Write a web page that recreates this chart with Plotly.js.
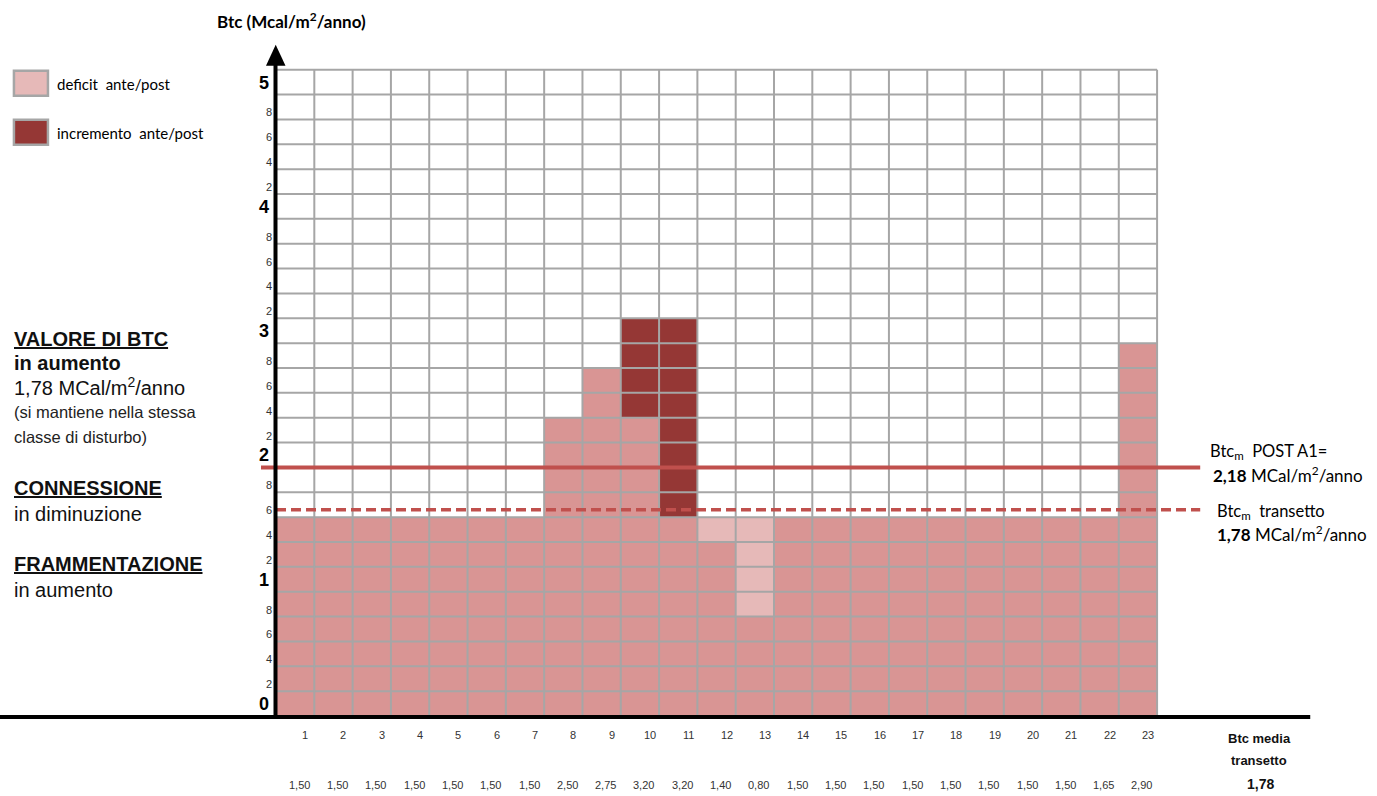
<!DOCTYPE html>
<html>
<head>
<meta charset="utf-8">
<script src="https://cdn.plot.ly/plotly-3.0.1.min.js"></script>
<style>html,body{margin:0;padding:0;background:#fff;}</style>
</head>
<body>
<div id="chart" style="width:1377px;height:796px;"></div>
<script>
// ---------- DATA ----------
const columns = [1,2,3,4,5,6,7,8,9,10,11,12,13,14,15,16,17,18,19,20,21,22,23];
const columnLabels = ['1','2','3','4','5','6','7','8','9','10','11','12','13','14','15','16','17','18','19','20','21','22','23'];
const btcPostLabels = ['1,50','1,50','1,50','1,50','1,50','1,50','1,50','2,50','2,75','3,20','3,20','1,40','0,80','1,50','1,50','1,50','1,50','1,50','1,50','1,50','1,50','1,65','2,90'];
// heights as drawn on the grid (cells of 0.2)
const baseValues = [1.6,1.6,1.6,1.6,1.6,1.6,1.6,2.4,2.8,2.4,1.6,1.4,0.8,1.6,1.6,1.6,1.6,1.6,1.6,1.6,1.6,1.6,3.0];
const incremento = [0,0,0,0,0,0,0,0,0,0.8,1.6,0,0,0,0,0,0,0,0,0,0,0,0];
const deficit    = [0,0,0,0,0,0,0,0,0,0,0,0.2,0.8,0,0,0,0,0,0,0,0,0,0];
const btcPostA1Line = 2.0;     // solid line (labelled 2,18)
const btcTransettoLine = 1.66; // dashed line (labelled 1,78)
const yTickVals = [0,0.2,0.4,0.6,0.8,1,1.2,1.4,1.6,1.8,2,2.2,2.4,2.6,2.8,3,3.2,3.4,3.6,3.8,4,4.2,4.4,4.6,4.8,5];
const yTickText = ['0','2','4','6','8','1','2','4','6','8','2','2','4','6','8','3','2','4','6','8','4','2','4','6','8','5'];
const btcMediaTransetto = '1,78';

// ---------- STYLE ----------
const C_BASE = '#d99594', C_INC = '#953735', C_DEF = '#e6b9b8';
const C_GRID = '#a6a6a6', C_RED = '#c0504d';
const ARIAL = 'Liberation Sans, Arial, sans-serif';
const CAL = 'Lato, Open Sans, sans-serif';

const L = 276, B = 716, W = 882.8, H = 649.7;
const px = x => (x - L) / W;
const py = y => (B - y) / H;

const traces = [
  {type:'bar', x:columns, y:baseValues, width:1, marker:{color:C_BASE, line:{width:0}}, hoverinfo:'skip', name:'base'},
  {type:'bar', x:columns, y:incremento, width:1, marker:{color:C_INC, line:{width:0}}, hoverinfo:'skip', name:'incremento ante/post'},
  {type:'bar', x:columns, y:deficit, width:1, marker:{color:C_DEF, line:{width:0}}, hoverinfo:'skip', name:'deficit ante/post'}
];

const shapes = [];
// grid above bars
for (let k = 1; k <= 26; k++) {
  const yv = Math.round(k * 2) / 10;
  shapes.push({type:'line', xref:'x', yref:'y', x0:0.5, x1:23.5, y0:yv, y1:yv, line:{color:C_GRID, width:2}, layer:'above'});
}
for (let k = 1; k <= 23; k++) {
  shapes.push({type:'line', xref:'x', yref:'y', x0:k + 0.5, x1:k + 0.5, y0:0, y1:5.2, line:{color:C_GRID, width:2}, layer:'above'});
}
// reference lines
shapes.push({type:'line', xref:'paper', yref:'y', x0:px(261), x1:px(1200), y0:btcPostA1Line, y1:btcPostA1Line, line:{color:C_RED, width:4}, layer:'above'});
shapes.push({type:'line', xref:'paper', yref:'y', x0:px(276), x1:px(1200), y0:btcTransettoLine, y1:btcTransettoLine, line:{color:C_RED, width:3.5, dash:'10px,5px'}, layer:'above'});
// black axes
shapes.push({type:'line', xref:'paper', yref:'paper', x0:px(0), x1:px(1310), y0:py(717), y1:py(717), line:{color:'#000', width:4}, layer:'above'});
shapes.push({type:'line', xref:'paper', yref:'paper', x0:px(275.5), x1:px(275.5), y0:py(719), y1:py(63), line:{color:'#000', width:4}, layer:'above'});
shapes.push({type:'path', xref:'paper', yref:'paper',
  path:`M ${px(266)} ${py(66)} L ${px(285.5)} ${py(66)} L ${px(275.7)} ${py(45)} Z`,
  fillcolor:'#000', line:{color:'#000', width:0}, layer:'above'});
// legend boxes
shapes.push({type:'rect', xref:'paper', yref:'paper', x0:px(14), x1:px(48), y0:py(71), y1:py(96), fillcolor:C_DEF, line:{color:C_GRID, width:2.5}, layer:'above'});
shapes.push({type:'rect', xref:'paper', yref:'paper', x0:px(14), x1:px(48), y0:py(120), y1:py(145), fillcolor:C_INC, line:{color:C_GRID, width:2.5}, layer:'above'});

const annotations = [];
function ann(text, x, y, opts) {
  annotations.push(Object.assign({text:text, xref:'paper', yref:'paper', x:px(x), y:py(y), showarrow:false,
    xanchor:'left', yanchor:'middle', font:{family:ARIAL, size:12, color:'#000'}}, opts || {}));
}
// y tick labels
yTickVals.forEach((v, i) => {
  const major = Math.abs(v - Math.round(v)) < 1e-9;
  annotations.push({text: major ? '<b>' + yTickText[i] + '</b>' : yTickText[i],
    xref:'paper', yref:'y', x: major ? px(271) : px(274), y:v, xanchor:'right', yanchor:'bottom',
    yshift: major ? 0 : -1, showarrow:false,
    font:{family:ARIAL, size: major ? 18 : 11, color: major ? '#000' : '#333'}});
});
// column labels and values
columns.forEach((c, i) => {
  annotations.push({text:columnLabels[i], xref:'x', yref:'paper', x:c, y:py(735), xshift:10, xanchor:'center', yanchor:'middle',
    showarrow:false, font:{family:ARIAL, size:11, color:'#333'}});
  annotations.push({text:btcPostLabels[i], xref:'x', yref:'paper', x:c, y:py(785), xshift:4, xanchor:'center', yanchor:'middle',
    showarrow:false, font:{family:ARIAL, size:11, color:'#333'}});
});
// title
ann('<b>Btc (Mcal/m<sup>2</sup>/anno)</b>', 291, 21, {xanchor:'center', font:{family:CAL, size:17, color:'#000'}});
// legend text
ann('deficit&nbsp; ante/post', 55, 84, {font:{family:CAL, size:15, color:'#000'}});
ann('incremento&nbsp; ante/post', 55, 133, {font:{family:CAL, size:15, color:'#000'}});
// left block
ann('<b><u>VALORE DI BTC</u></b>', 12, 339, {font:{family:ARIAL, size:20, color:'#111'}});
ann('<b>in aumento</b>', 12, 363, {font:{family:ARIAL, size:20, color:'#111'}});
ann('1,78 MCal/m<sup>2</sup>/anno', 12, 387, {font:{family:ARIAL, size:20, color:'#111'}});
ann('(si mantiene nella stessa', 12, 412, {font:{family:ARIAL, size:16.5, color:'#222'}});
ann('classe di disturbo)', 12, 437, {font:{family:ARIAL, size:16.5, color:'#222'}});
ann('<b><u>CONNESSIONE</u></b>', 12, 488, {font:{family:ARIAL, size:20, color:'#111'}});
ann('in diminuzione', 12, 514, {font:{family:ARIAL, size:20, color:'#111'}});
ann('<b><u>FRAMMENTAZIONE</u></b>', 12, 564, {font:{family:ARIAL, size:20, color:'#111'}});
ann('in aumento', 12, 590, {font:{family:ARIAL, size:20, color:'#111'}});
// right labels
ann('Btc<sub>m</sub>&nbsp; POST A1=', 1208, 452, {font:{family:CAL, size:16.5, color:'#000'}});
ann('<b>2,18</b> MCal/m<sup>2</sup>/anno', 1211, 475, {font:{family:CAL, size:17, color:'#000'}});
ann('Btc<sub>m</sub>&nbsp; transetto', 1215, 512, {font:{family:CAL, size:16.5, color:'#000'}});
ann('<b>1,78</b> MCal/m<sup>2</sup>/anno', 1215, 534, {font:{family:CAL, size:17, color:'#000'}});
// btc media
ann('<b>Btc media</b>', 1259, 738, {xanchor:'center', font:{family:ARIAL, size:13, color:'#111'}});
ann('<b>transetto</b>', 1259, 760, {xanchor:'center', font:{family:ARIAL, size:13, color:'#111'}});
ann('<b>' + btcMediaTransetto + '</b>', 1260, 784, {xanchor:'center', font:{family:ARIAL, size:14, color:'#111'}});

const layout = {
  width:1377, height:796,
  margin:{l:L, r:1377 - L - W, t:B - H, b:796 - B, pad:0},
  paper_bgcolor:'#fff', plot_bgcolor:'#fff',
  barmode:'stack', bargap:0, showlegend:false,
  xaxis:{range:[0.5, 23.55], showgrid:false, zeroline:false, showticklabels:false, showline:false, ticks:'', fixedrange:true},
  yaxis:{range:[0, 5.23], showgrid:false, zeroline:false, showticklabels:false, showline:false, ticks:'', fixedrange:true},
  shapes:shapes, annotations:annotations
};
Plotly.newPlot('chart', traces, layout, {displayModeBar:false, staticPlot:true});
</script>
</body>
</html>
